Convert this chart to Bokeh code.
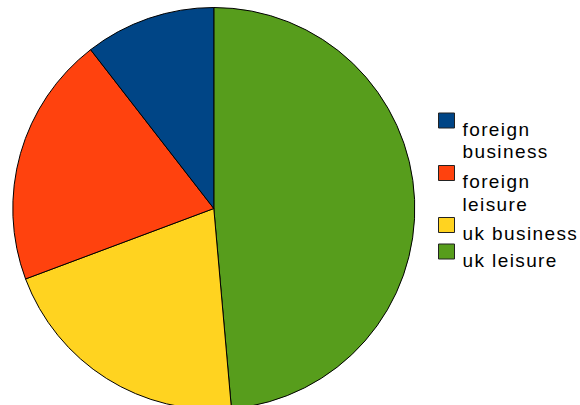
import numpy as np
from bokeh.plotting import figure
from bokeh.models import ColumnDataSource, Range1d
from bokeh.core.properties import value
from bokeh.embed import file_html
from bokeh.resources import INLINE

# ---- data ----
categories = ["foreign business", "foreign leisure", "uk business", "uk leisure"]
legend_lines = [["foreign", "business"], ["foreign", "leisure"], ["uk business"], ["uk leisure"]]
shares = [10.5, 20.2, 20.7, 48.6]
colors = ["#004586", "#ff420e", "#ffd320", "#579d1c"]

W, H = 580, 405
p = figure(width=W, height=H, output_backend="svg", toolbar_location=None,
           x_range=Range1d(0, W), y_range=Range1d(0, H), min_border=0)
p.axis.visible = False
p.grid.visible = False
p.outline_line_color = None
p.background_fill_color = "white"
p.border_fill_color = "white"
p.styles = {"letter-spacing": "1.4px"}

# pie: clockwise from 12 o'clock, in reverse legend order
cx, cy, r = 213.3, H - 208.0, 201.0
order = list(range(len(categories)))[::-1]
vals = np.array([shares[i] for i in order], dtype=float)
frac = vals / vals.sum()
cum = np.concatenate([[0], np.cumsum(frac)])
start = np.pi / 2 - 2 * np.pi * cum[:-1]
end = np.pi / 2 - 2 * np.pi * cum[1:]
src = ColumnDataSource(dict(start=start, end=end,
                            color=[colors[i] for i in order],
                            name=[categories[i] for i in order]))
p.wedge(x=cx, y=cy, radius=r, start_angle="start", end_angle="end",
        direction="clock", fill_color="color", line_color="black",
        line_width=1, source=src)

# legend
sq_x = 446
sq_centers = [120.0, 172.5, 224.5, 251.0]
line_gap = 22.5
tx, ty, tt = [], [], []
for i, lines in enumerate(legend_lines):
    yc = sq_centers[i]
    p.rect(x=sq_x, y=H - yc, width=16, height=15, fill_color=colors[i],
           line_color="#222222", line_width=1)
    for k, ln in enumerate(lines):
        tx.append(462)
        ty.append(H - (yc + 8.5 + k * line_gap))
        tt.append(ln)
p.text(x=tx, y=ty, text=tt, text_font=value("Liberation Sans"),
       text_font_size="19px", text_baseline="alphabetic", text_align="left",
       text_color="black")

open("out.html", "w").write(file_html(p, INLINE))
